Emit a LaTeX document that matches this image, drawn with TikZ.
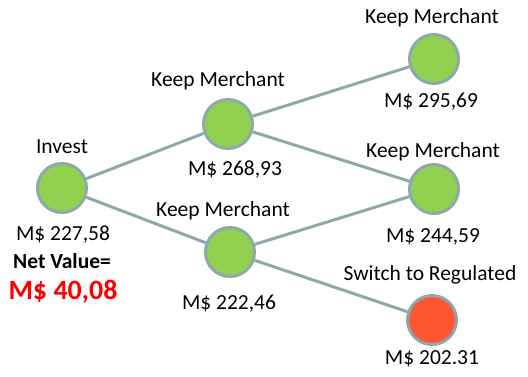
\documentclass[tikz,border=0pt]{standalone}
\usepackage{fontspec}
\setmainfont{Carlito}
\definecolor{nodegreen}{HTML}{92D050}
\definecolor{nodered}{HTML}{FF5533}
\definecolor{edgegrey}{HTML}{8EA9A9}
\definecolor{valred}{HTML}{FF0000}
\begin{document}
\begin{tikzpicture}[x=1pt,y=-1pt,
  state/.style={circle,draw=edgegrey,line width=3pt,minimum size=49pt,inner sep=0pt,fill=nodegreen},
  badstate/.style={state,fill=nodered},
  lbl/.style={font=\fontsize{21.5}{25}\selectfont,inner sep=0pt,anchor=center},
  link/.style={draw=edgegrey,line width=3pt}]
\useasboundingbox (0,0) rectangle (528,376);
% nodes
\node[state] (inv) at (62,188) {};
\node[state] (up) at (228,124) {};
\node[state] (lo) at (230,252) {};
\node[state] (r1) at (434,59) {};
\node[state] (r2) at (434,189) {};
\node[badstate] (r3) at (432,320) {};
% connectors
\draw[link] (inv) -- (up);
\draw[link] (inv) -- (lo);
\draw[link] (up) -- (r1);
\draw[link] (up) -- (r2);
\draw[link] (lo) -- (r2);
\draw[link] (lo) -- (r3);
% labels
\node[lbl] (tinv) at (62,147) {Invest};
\node[lbl] (vinv) at (63,235) {M\$ 227,58};
\node[lbl,font=\fontsize{21.5}{25}\selectfont\bfseries] (net) at (62,261) {Net Value=};
\node[lbl,font=\fontsize{28}{33}\selectfont\bfseries,text=valred] (nv) at (63,292) {M\$ 40,08};
\node[lbl] (tup) at (218,81) {Keep Merchant};
\node[lbl] (vup) at (235,170) {M\$ 268,93};
\node[lbl] (tlo) at (223,211) {Keep Merchant};
\node[lbl] (vlo) at (229,304) {M\$ 222,46};
\node[lbl] (tr1) at (432,18) {Keep Merchant};
\node[lbl] (vr1) at (431,102) {M\$ 295,69};
\node[lbl] (tr2) at (433,152) {Keep Merchant};
\node[lbl] (vr2) at (433,237) {M\$ 244,59};
\node[lbl] (tr3) at (430,275) {Switch to Regulated};
\node[lbl] (vr3) at (432,359) {M\$ 202.31};
\end{tikzpicture}
\end{document}
